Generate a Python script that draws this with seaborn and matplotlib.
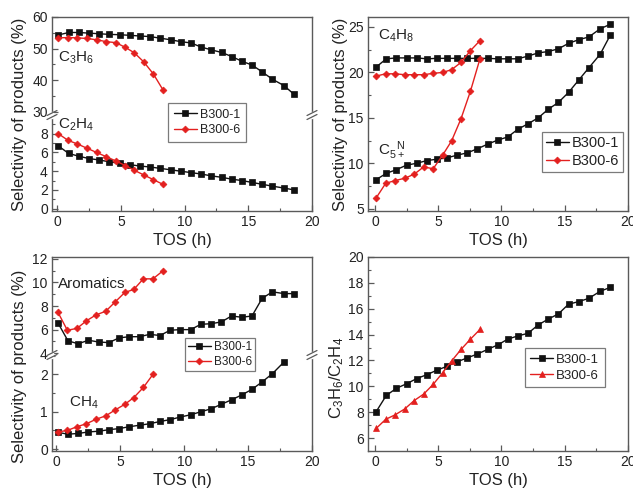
import matplotlib
matplotlib.use("Agg")
import matplotlib.pyplot as plt
import seaborn as sns
from matplotlib.ticker import MultipleLocator

# time on stream (h)
tos_b1 = [0.1, 0.9, 1.7, 2.5, 3.3, 4.1, 4.9, 5.7, 6.5, 7.3, 8.1, 8.9,
          9.7, 10.5, 11.3, 12.1, 12.9, 13.7, 14.5, 15.3, 16.1, 16.9, 17.8, 18.6]
tos_b6 = [0.1, 0.85, 1.6, 2.35, 3.1, 3.85, 4.6, 5.35, 6.05, 6.8, 7.55, 8.3]

# panel a: C3H6 / C2H4
c3h6_b1 = [54.3, 55.1, 55.1, 54.9, 54.7, 54.5, 54.4, 54.2, 54.0, 53.8, 53.3, 52.8,
           52.2, 51.8, 50.5, 49.6, 48.8, 47.5, 46.0, 44.8, 42.6, 40.3, 38.3, 35.5]
c3h6_b6 = [53.4, 53.5, 53.4, 53.2, 52.8, 52.2, 51.9, 50.4, 48.7, 45.8, 42.0, 37.0]
c2h4_b1 = [6.7, 5.9, 5.6, 5.35, 5.2, 5.0, 4.85, 4.7, 4.55, 4.45, 4.3, 4.15,
           4.0, 3.85, 3.7, 3.5, 3.35, 3.15, 3.0, 2.8, 2.6, 2.4, 2.2, 2.0]
c2h4_b6 = [8.0, 7.3, 6.9, 6.45, 6.0, 5.55, 5.1, 4.6, 4.1, 3.6, 3.1, 2.6]

# panel b: C4H8 / C5+ non-aromatics
c4h8_b1 = [20.6, 21.5, 21.6, 21.6, 21.6, 21.5, 21.55, 21.55, 21.55, 21.55, 21.55, 21.55,
           21.5, 21.5, 21.5, 21.8, 22.15, 22.3, 22.6, 23.2, 23.6, 23.9, 24.8, 25.3]
c4h8_b6 = [19.6, 19.85, 19.85, 19.75, 19.75, 19.75, 19.9, 20.0, 20.3, 21.1, 22.4, 23.5]
c5n_b1 = [8.2, 8.9, 9.3, 9.8, 10.0, 10.3, 10.45, 10.6, 10.9, 11.15, 11.6, 12.1,
          12.55, 12.9, 13.75, 14.35, 15.0, 15.95, 16.7, 17.8, 19.15, 20.5, 22.0, 24.1]
c5n_b6 = [6.2, 7.8, 8.1, 8.35, 8.8, 9.6, 9.4, 10.9, 12.45, 14.9, 17.95, 21.5]

# panel c: aromatics / CH4
arom_b1 = [6.6, 5.05, 4.8, 5.1, 4.95, 4.9, 5.3, 5.4, 5.4, 5.6, 5.5, 5.95,
           6.0, 6.0, 6.45, 6.5, 6.65, 7.15, 7.05, 7.15, 8.65, 9.2, 9.05, 9.05]
arom_b6 = [7.5, 5.95, 6.1, 6.75, 7.25, 7.55, 8.35, 9.15, 9.4, 10.3, 10.3, 10.95]
ch4_b1 = [0.45, 0.4, 0.42, 0.46, 0.48, 0.52, 0.55, 0.6, 0.64, 0.68, 0.74, 0.79,
          0.86, 0.92, 1.0, 1.08, 1.2, 1.32, 1.45, 1.6, 1.8, 2.02, 2.33]
ch4_b6 = [0.46, 0.5, 0.6, 0.68, 0.8, 0.89, 1.05, 1.2, 1.38, 1.65, 2.0]

# panel d: C3H6/C2H4 ratio
ratio_b1 = [8.05, 9.3, 9.85, 10.2, 10.6, 10.9, 11.25, 11.55, 11.9, 12.2, 12.5, 12.85,
            13.2, 13.65, 13.9, 14.1, 14.75, 15.2, 15.6, 16.35, 16.55, 16.8, 17.35, 17.65]
ratio_b6 = [6.75, 7.45, 7.8, 8.25, 8.9, 9.4, 10.15, 11.05, 11.95, 12.85, 13.65, 14.4]

labels = ["B300-1", "B300-6"]

sns.set_theme(style="ticks")
plt.rcParams['font.family'] = ['Liberation Sans', 'DejaVu Sans']
plt.rcParams['mathtext.default'] = 'regular'

BLACK = "#111111"
RED = "#e3201f"
FRAME = "#5a5a5a"
TXT = "#222222"
W, H = 633, 492

fig = plt.figure(figsize=(W / 100, H / 100), dpi=100)


def fx(px):
    return px / W


def fy(py):
    return 1 - py / H


def style(ax, hide=None):
    for s in ax.spines.values():
        s.set_color(FRAME)
        s.set_linewidth(1.0)
    if hide:
        ax.spines[hide].set_visible(False)
    ax.tick_params(which="both", direction="in", color=FRAME, labelcolor=TXT,
                   labelsize=10, top=False, right=False)
    ax.tick_params(which="major", length=4, width=0.9, pad=3)
    ax.tick_params(which="minor", length=2, width=0.8)
    ax.set_facecolor("white")
    ax.grid(False)


def draw(ax, x, y, color, marker, ms, label=None):
    sns.lineplot(x=x, y=y, ax=ax, color=color, marker=marker, markersize=ms,
                 markeredgecolor=color, markeredgewidth=0.5, linewidth=1.0,
                 label=label, legend=False)


def breakmark(xpx, ypx):
    # gap in the spine plus a pair of slashes
    fig.add_artist(plt.Line2D([fx(xpx), fx(xpx)], [fy(ypx - 2), fy(ypx + 2)],
                              color="white", lw=2.5, zorder=10))
    for off in (-2.0, 2.0):
        fig.add_artist(plt.Line2D([fx(xpx - 5), fx(xpx + 5)],
                                  [fy(ypx + off + 2.5), fy(ypx + off - 2.5)],
                                  color=FRAME, lw=0.9, zorder=11))


def xaxis(ax, xmin):
    ax.set_xlim(xmin, 20)
    ax.xaxis.set_major_locator(MultipleLocator(5))
    ax.xaxis.set_minor_locator(MultipleLocator(2.5))


def legend(ax, x, y, size, pad):
    h, l = ax.get_legend_handles_labels()
    fs_px = size * 100 / 72
    lg = ax.legend(h, labels, loc="upper left", bbox_to_anchor=(fx(x), fy(y)),
                   bbox_transform=fig.transFigure, borderaxespad=0, fontsize=size,
                   frameon=True, fancybox=False, edgecolor=FRAME,
                   handlelength=23 / fs_px, handletextpad=3 / fs_px,
                   borderpad=pad, labelspacing=0.3)
    lg.get_frame().set_linewidth(0.9)
    for t in lg.get_texts():
        t.set_color(TXT)


# ---------------- panel a (top left, broken) ----------------
L1, R1 = 52, 312
a_up = fig.add_axes([fx(L1), fy(115), fx(R1 - L1), (115 - 17) / H])
a_lo = fig.add_axes([fx(L1), fy(211), fx(R1 - L1), (211 - 115) / H])
draw(a_up, tos_b1, c3h6_b1, BLACK, "s", 4)
draw(a_up, tos_b6, c3h6_b6, RED, "D", 3.5)
draw(a_lo, tos_b1, c2h4_b1, BLACK, "s", 4, labels[0])
draw(a_lo, tos_b6, c2h4_b6, RED, "D", 3.5, labels[1])
a_up.set_ylim(29, 60)
a_up.set_yticks([30, 40, 50, 60])
a_up.yaxis.set_minor_locator(MultipleLocator(5))
a_lo.set_ylim(-0.25, 10)
a_lo.set_yticks([0, 2, 4, 6, 8])
a_lo.yaxis.set_minor_locator(MultipleLocator(1))
for ax in (a_up, a_lo):
    xaxis(ax, -0.4)
    ax.set_xlabel("")
style(a_up, "bottom")
style(a_lo, "top")
a_up.tick_params(axis="x", which="both", bottom=False, labelbottom=False)
a_up.text(0.1, 47.0, "C$_3$H$_6$", fontsize=11, color=TXT, va="center")
a_lo.text(0.1, 9.0, "C$_2$H$_4$", fontsize=11, color=TXT, va="center")
a_lo.set_xlabel("TOS (h)", fontsize=12, color=TXT, labelpad=3)
legend(a_lo, 168, 103, 9, 0.45)
breakmark(L1, 115)
breakmark(R1, 115)
fig.text(fx(20), fy(114), "Selectivity of products (%)", rotation=90, fontsize=12,
         color=TXT, ha="center", va="center")

# ---------------- panel b (top right) ----------------
L2, R2 = 368, 628
b = fig.add_axes([fx(L2), fy(211), fx(R2 - L2), (211 - 17) / H])
draw(b, tos_b1, c4h8_b1, BLACK, "s", 4, labels[0])
draw(b, tos_b6, c4h8_b6, RED, "D", 3.5, labels[1])
draw(b, tos_b1, c5n_b1, BLACK, "s", 4)
draw(b, tos_b6, c5n_b6, RED, "D", 3.5)
b.set_ylim(4.75, 26.1)
b.set_yticks([5, 10, 15, 20, 25])
b.yaxis.set_minor_locator(MultipleLocator(2.5))
xaxis(b, -0.55)
style(b)
b.text(0.25, 24.0, "C$_4$H$_8$", fontsize=11, color=TXT, va="center")
b.text(0.25, 11.4, "C$_{5+}^{\\ \\ N}$", fontsize=11, color=TXT, va="center")
b.set_xlabel("TOS (h)", fontsize=12, color=TXT, labelpad=3)
legend(b, 542, 132, 10.5, 0.25)
fig.text(fx(340), fy(114), "Selectivity of products (%)", rotation=90, fontsize=12,
         color=TXT, ha="center", va="center")

# ---------------- panel c (bottom left, broken) ----------------
c_up = fig.add_axes([fx(L1), fy(355), fx(R1 - L1), (355 - 257) / H])
c_lo = fig.add_axes([fx(L1), fy(451), fx(R1 - L1), (451 - 355) / H])
draw(c_up, tos_b1, arom_b1, BLACK, "s", 4)
draw(c_up, tos_b6, arom_b6, RED, "D", 3.5)
draw(c_lo, tos_b1[:len(ch4_b1)], ch4_b1, BLACK, "s", 4, labels[0])
draw(c_lo, tos_b6[:len(ch4_b6)], ch4_b6, RED, "D", 3.5, labels[1])
c_up.set_ylim(3.85, 12.15)
c_up.set_yticks([4, 6, 8, 10, 12])
c_up.yaxis.set_minor_locator(MultipleLocator(1))
c_lo.set_ylim(-0.05, 2.52)
c_lo.set_yticks([0, 1, 2])
c_lo.yaxis.set_minor_locator(MultipleLocator(0.5))
for ax in (c_up, c_lo):
    xaxis(ax, -0.35)
    ax.set_xlabel("")
style(c_up, "bottom")
style(c_lo, "top")
c_up.tick_params(axis="x", which="both", bottom=False, labelbottom=False)
c_up.text(0.15, 9.85, "Aromatics", fontsize=11, color=TXT, va="center")
c_lo.text(1.0, 1.25, "CH$_4$", fontsize=11, color=TXT, va="center")
c_lo.set_xlabel("TOS (h)", fontsize=12, color=TXT, labelpad=3)
legend(c_lo, 185, 338, 8.5, 0.25)
breakmark(L1, 355)
breakmark(R1, 355)
fig.text(fx(20), fy(366), "Selectivity of products (%)", rotation=90, fontsize=12,
         color=TXT, ha="center", va="center")

# ---------------- panel d (bottom right) ----------------
d = fig.add_axes([fx(L2), fy(451), fx(R2 - L2), (451 - 257) / H])
draw(d, tos_b1, ratio_b1, BLACK, "s", 4, labels[0])
draw(d, tos_b6, ratio_b6, RED, "^", 4.5, labels[1])
d.set_ylim(5, 20)
d.set_yticks([6, 8, 10, 12, 14, 16, 18, 20])
d.yaxis.set_minor_locator(MultipleLocator(1))
xaxis(d, -0.55)
style(d)
d.set_xlabel("TOS (h)", fontsize=12, color=TXT, labelpad=3)
legend(d, 525, 348, 9.5, 0.4)
fig.text(fx(337), fy(378), "C$_3$H$_6$/C$_2$H$_4$", rotation=90, fontsize=12,
         color=TXT, ha="center", va="center")

fig.savefig("out.png", dpi=100, facecolor="white")
